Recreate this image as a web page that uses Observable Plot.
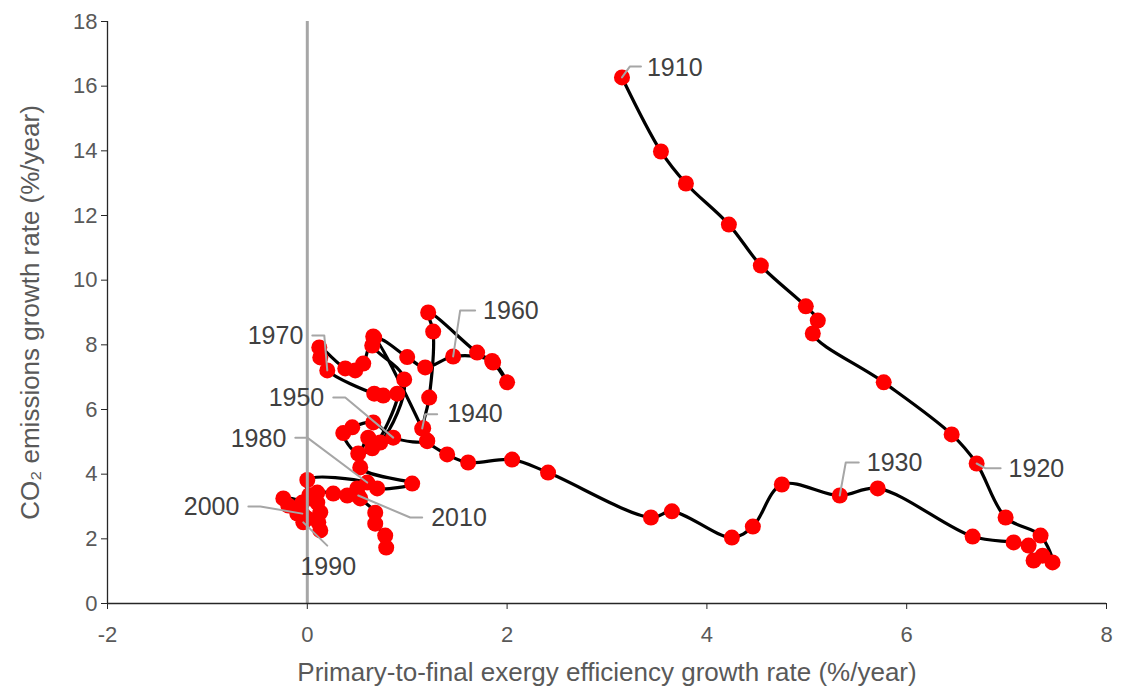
<!DOCTYPE html>
<html>
<head>
<meta charset="utf-8">
<script src="https://cdn.jsdelivr.net/npm/d3@7"></script>
<script src="https://cdn.jsdelivr.net/npm/@observablehq/plot@0.6"></script>
<style>
  html, body { margin: 0; padding: 0; background: #fff; }
  #chart { width: 1126px; height: 693px; }
  svg { font-family: "Liberation Sans", Arial, sans-serif; }
</style>
</head>
<body>
<div id="chart"></div>
<script>
// Ordered trajectory (one point per year)
const effGrowth = [
  3.15, 3.54, 3.79, 4.22, 4.54, 4.99, 5.11, 5.06, 5.77, 6.45,
  6.70, 6.99, 7.34, 7.46, 7.36, 7.27, 7.22, 7.07, 6.66, 5.71,
  5.33, 4.75, 4.46, 4.25, 3.65, 3.44, 2.41, 2.05, 1.61, 1.40,
  1.20, 1.15, 0.66, 0.65, 0.97, 0.73, 0.51, 0.36, 0.45, 0.66,
  0.86, 1.20, 1.16, 1.22, 1.26, 1.21, 1.70, 1.86, 2.00, 1.85,
  1.46, 1.18, 1.00, 0.67, 0.56, 0.48, 0.38, 0.12, 0.13, 0.20,
  0.67, 0.76, 0.90, 0.65, 0.61, 0.53, 1.05, 0.70, 0.60, 0.00,
  0.02, 0.10, 0.13, 0.11, 0.13, 0.00, -0.04, -0.10, -0.19, -0.24,
  -0.05, -0.05, 0.10, 0.26, 0.40, 0.50, 0.51, 0.53, 0.68, 0.68,
  0.78, 0.79
];
const co2Growth = [
  16.27, 13.98, 12.99, 11.72, 10.45, 9.19, 8.75, 8.35, 6.84, 5.23,
  4.33, 2.66, 2.10, 1.27, 1.48, 1.33, 1.79, 1.89, 2.07, 3.56,
  3.34, 3.68, 2.38, 2.04, 2.85, 2.66, 4.05, 4.45, 4.36, 4.61,
  5.02, 5.41, 8.26, 7.98, 6.93, 4.98, 4.64, 5.27, 5.45, 5.60,
  5.13, 5.04, 5.42, 6.37, 8.41, 9.00, 7.76, 7.45, 6.84, 7.50,
  7.64, 7.30, 7.62, 8.22, 7.42, 7.21, 7.27, 7.92, 7.61, 7.21,
  6.49, 6.43, 6.49, 4.80, 5.13, 4.21, 3.71, 3.56, 3.74, 3.82,
  3.35, 3.12, 2.82, 2.51, 2.26, 2.63, 2.51, 2.78, 3.03, 3.25,
  3.12, 2.78, 3.43, 3.40, 3.34, 3.56, 3.34, 3.25, 2.81, 2.47,
  2.10, 1.73
];

// Decade labels: which point they mark, where the text sits, leader bends
const labelText   = ["1910", "1920", "1930", "1940", "1950", "1960", "1970", "1980", "1990", "2000", "2010"];
const labelPoint  = [0, 10, 20, 31, 40, 50, 59, 68, 76, 81, 86];
const labelX      = [3.40, 7.02, 5.60, 1.40, 0.17, 1.76, -0.04, -0.21, 0.21, -0.68, 1.24];
const labelY      = [16.55, 4.15, 4.33, 5.85, 6.35, 9.06, 8.27, 5.10, 1.14, 2.97, 2.63];
const labelAnchor = ["start", "start", "start", "start", "end", "start", "end", "end", "middle", "end", "start"];
const leaderBend  = [[3.23, 16.61], [6.79, 4.18], [5.39, 4.36], [1.18, 5.85], [0.38, 6.37], [1.53, 9.06], [0.17, 8.29], [0.00, 5.13], [0.20, 1.79], [-0.47, 3.00], [1.03, 2.66]];
const leaderEnd   = [[3.34, 16.61], [6.94, 4.18], [5.52, 4.36], [1.30, 5.85], [0.26, 6.37], [1.68, 9.06], [0.05, 8.29], [-0.12, 5.13], [0.20, 1.79], [-0.59, 3.00], [1.15, 2.66]];

const xTicks = [-2, 0, 2, 4, 6, 8];
const yTicks = [0, 2, 4, 6, 8, 10, 12, 14, 16, 18];
const xTitle = "Primary-to-final exergy efficiency growth rate (%/year)";
const yTitle = "CO₂ emissions growth rate (%/year)";

const points = effGrowth.map((x, i) => ({x, y: co2Growth[i]}));
const labels = labelText.map((t, k) => ({text: t, x: labelX[k], y: labelY[k], anchor: labelAnchor[k]}));
const leaders = labelText.flatMap((t, k) => {
  const p = points[labelPoint[k]];
  return [
    {k, x: p.x, y: p.y},
    {k, x: leaderBend[k][0], y: leaderBend[k][1]},
    {k, x: leaderEnd[k][0], y: leaderEnd[k][1]}
  ];
});

const labelMark = (anchor) => Plot.text(labels.filter((d) => d.anchor === anchor), {
  x: "x", y: "y", text: "text", textAnchor: anchor,
  fontSize: 25, fill: "#404040", lineAnchor: "middle"
});

const chart = Plot.plot({
  width: 1126,
  height: 693,
  marginLeft: 107,
  marginRight: 20,
  marginTop: 21,
  marginBottom: 90,
  style: {fontFamily: '"Liberation Sans", Arial, sans-serif', background: "#fff"},
  x: {domain: [-2, 8]},
  y: {domain: [0, 18]},
  marks: [
    Plot.line(points, {x: "x", y: "y", curve: "catmull-rom", stroke: "#000", strokeWidth: 3.2}),
    Plot.dot(points, {x: "x", y: "y", r: 8, fill: "#ff0000", stroke: "none"}),
    Plot.ruleX([0], {stroke: "#a6a6a6", strokeWidth: 3}),
    Plot.line(leaders, {x: "x", y: "y", z: "k", stroke: "#a6a6a6", strokeWidth: 2}),
    labelMark("start"),
    labelMark("end"),
    labelMark("middle"),
    Plot.ruleX([-2], {stroke: "#262626", strokeWidth: 1.3}),
    Plot.ruleY([0], {stroke: "#262626", strokeWidth: 1.3}),
    Plot.axisX({
      ticks: xTicks, tickFormat: (d) => String(d), tickSize: 6, tickPadding: 17,
      fontSize: 22, color: "#595959", stroke: "#262626", label: null
    }),
    Plot.axisY({
      ticks: yTicks, tickFormat: (d) => String(d), tickSize: 6, tickPadding: 4,
      fontSize: 22, color: "#595959", stroke: "#262626", label: null
    }),
    Plot.text([xTitle], {
      frameAnchor: "bottom", textAnchor: "middle", dy: 69, fontSize: 26, fill: "#595959", lineAnchor: "middle"
    }),
    Plot.text([yTitle], {
      frameAnchor: "left", textAnchor: "middle", dx: -77, rotate: -90, fontSize: 26, fill: "#595959", lineAnchor: "middle"
    })
  ]
});
document.getElementById("chart").appendChild(chart);
</script>
</body>
</html>
